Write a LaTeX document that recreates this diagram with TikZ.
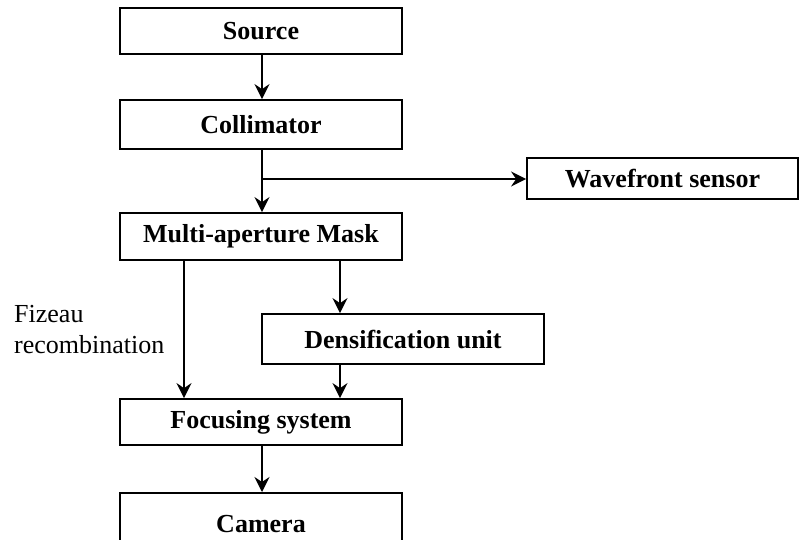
\documentclass[tikz,border=0pt]{standalone}
\usepackage{fontspec}
\setmainfont{Liberation Serif}
\usetikzlibrary{arrows.meta}
\begin{document}
\begin{tikzpicture}[x=1pt,y=-1pt,
  box/.style={draw=black, line width=1.8pt, fill=white, inner sep=0pt, font=\fontsize{26}{30}\selectfont\bfseries},
  arr/.style={line width=1.8pt, -{Stealth[length=15pt,width=15pt,inset=5pt]}},
  ln/.style={line width=1.8pt}]
\useasboundingbox (0,0) rectangle (800,539);
\clip (0,0) rectangle (800,539);
\node[box, minimum width=282pt, minimum height=46pt] (src) at (261,31) {Source};
\node[box, minimum width=282pt, minimum height=49pt] (col) at (261,124.5) {Collimator};
\node[box, minimum width=271pt, minimum height=41pt] (wfs) at (662.5,178.5) {Wavefront sensor};
\node[box, minimum width=282pt, minimum height=47pt] (mask) at (261,236.5) {Multi-aperture Mask};
\node[box, minimum width=282pt, minimum height=50pt] (dens) at (403,339) {Densification unit};
\node[box, minimum width=282pt, minimum height=46pt] (foc) at (261,422) {Focusing system};
\node[box, minimum width=282pt, minimum height=70pt, anchor=north] (cam) at (261,492) {};
\node[font=\fontsize{26}{30}\selectfont\bfseries, anchor=base] (camtxt) at (261,532) {Camera};
\node[font=\fontsize{26}{31}\selectfont, align=left, anchor=base west, inner sep=0pt] (fiz) at (14,353) {Fizeau\\recombination};
\coordinate (br) at (262,179);
\draw[arr] (src.south -| 262,0) -- (col.north -| 262,0);
\draw[arr] (col.south -| 262,0) -- (mask.north -| 262,0);
\draw[arr] (br) -- (wfs.west |- br);
\draw[arr] (mask.south -| 340,0) -- (dens.north -| 340,0);
\draw[arr] (mask.south -| 184,0) -- (foc.north -| 184,0);
\draw[arr] (dens.south -| 340,0) -- (foc.north -| 340,0);
\draw[arr] (foc.south -| 262,0) -- (cam.north -| 262,0);
\end{tikzpicture}
\end{document}
